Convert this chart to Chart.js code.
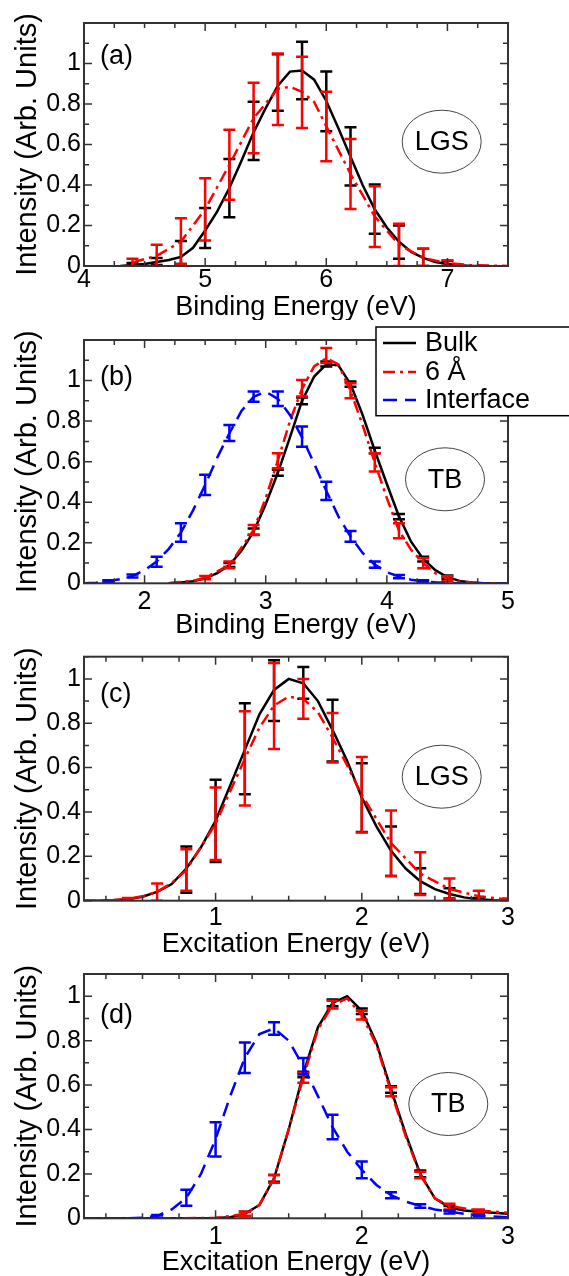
<!DOCTYPE html>
<html>
<head>
<meta charset="utf-8">
<script src="https://cdn.jsdelivr.net/npm/chart.js@4.4.0/dist/chart.umd.min.js"></script>
<style>
  body { margin: 0; background: #fff; }
  .panel { position: absolute; left: 0; width: 569px; }
  canvas { display: block; }
</style>
</head>
<body>
<div class="panel" style="top:0px;height:320px"><canvas id="chart-a" width="569" height="320"></canvas></div>
<div class="panel" style="top:320px;height:320px"><canvas id="chart-b" width="569" height="320"></canvas></div>
<div class="panel" style="top:640px;height:320px"><canvas id="chart-c" width="569" height="320"></canvas></div>
<div class="panel" style="top:960px;height:316px"><canvas id="chart-d" width="569" height="316"></canvas></div>
<script>
// ---- (a) LGS, binding energy ----
const aBulkX = [4.3, 4.4, 4.5, 4.6, 4.7, 4.8, 4.9, 5.0, 5.1, 5.2, 5.3, 5.4, 5.5, 5.6, 5.7, 5.8, 5.9, 6.0, 6.1, 6.2, 6.3, 6.4, 6.5, 6.6, 6.7, 6.8, 6.9, 7.0, 7.1, 7.2, 7.3];
const aBulkY = [0.0, 0.005, 0.01, 0.02, 0.03, 0.045, 0.09, 0.175, 0.27, 0.385, 0.52, 0.66, 0.78, 0.89, 0.96, 0.965, 0.92, 0.815, 0.68, 0.54, 0.40, 0.28, 0.19, 0.12, 0.07, 0.04, 0.02, 0.01, 0.004, 0.0, 0.0];
const aBulkErrX = [4.4, 4.6, 4.8, 5.0, 5.2, 5.4, 5.6, 5.8, 6.0, 6.2, 6.4, 6.6, 6.8, 7.0];
const aBulkErrLo = [0.0, 0.005, 0.01, 0.089, 0.241, 0.524, 0.767, 0.824, 0.665, 0.397, 0.159, 0.036, 0.0, 0.0];
const aBulkErrHi = [0.015, 0.04, 0.123, 0.287, 0.529, 0.811, 1.046, 1.107, 0.961, 0.685, 0.402, 0.2, 0.085, 0.025];
const aSixX = [4.4, 4.6, 4.8, 5.0, 5.2, 5.4, 5.6, 5.7, 5.8, 5.9, 6.0, 6.2, 6.4, 6.6, 6.8, 7.0, 7.2, 7.5];
const aSixY = [0.018, 0.05, 0.12, 0.28, 0.50, 0.73, 0.875, 0.885, 0.86, 0.81, 0.69, 0.455, 0.245, 0.105, 0.04, 0.014, 0.004, 0.0];
const aSixErrX = [4.4, 4.6, 4.8, 5.0, 5.2, 5.4, 5.6, 5.8, 6.0, 6.2, 6.4, 6.6, 6.8, 7.0];
const aSixErrLo = [0.0, 0.0, 0.01, 0.126, 0.327, 0.557, 0.696, 0.681, 0.517, 0.282, 0.094, 0.0, 0.0, 0.0];
const aSixErrHi = [0.036, 0.105, 0.236, 0.433, 0.673, 0.905, 1.05, 1.033, 0.86, 0.627, 0.394, 0.209, 0.085, 0.028];

// ---- (b) TB, binding energy ----
const bBulkX = [2.2, 2.3, 2.4, 2.5, 2.6, 2.7, 2.8, 2.9, 3.0, 3.1, 3.2, 3.3, 3.4, 3.5, 3.6, 3.7, 3.8, 3.9, 4.0, 4.1, 4.2, 4.3, 4.4, 4.5, 4.6, 4.7, 4.8, 5.0];
const bBulkY = [0.0, 0.004, 0.01, 0.025, 0.05, 0.09, 0.16, 0.255, 0.39, 0.545, 0.72, 0.90, 1.02, 1.08, 1.075, 0.983, 0.83, 0.655, 0.49, 0.33, 0.205, 0.12, 0.065, 0.03, 0.012, 0.004, 0.0, 0.0];
const bBulkErrX = [2.7, 2.9, 3.1, 3.3, 3.5, 3.7, 3.9, 4.1, 4.3, 4.5];
const bBulkErrLo = [0.08, 0.24, 0.53, 0.883, 1.069, 0.97, 0.642, 0.316, 0.107, 0.022];
const bBulkErrHi = [0.10, 0.27, 0.56, 0.916, 1.094, 0.995, 0.669, 0.342, 0.131, 0.038];
const bSixX = [2.2, 2.4, 2.5, 2.7, 2.9, 3.0, 3.1, 3.2, 3.3, 3.4, 3.5, 3.6, 3.7, 3.8, 3.9, 4.0, 4.1, 4.2, 4.3, 4.4, 4.5, 4.6, 4.8, 5.0];
const bSixY = [0.0, 0.012, 0.028, 0.09, 0.263, 0.42, 0.605, 0.80, 0.96, 1.07, 1.11, 1.08, 0.95, 0.78, 0.596, 0.42, 0.26, 0.165, 0.10, 0.05, 0.022, 0.008, 0.0, 0.0];
const bSixErrX = [2.5, 2.7, 2.9, 3.1, 3.3, 3.5, 3.7, 3.9, 4.1, 4.3, 4.5];
const bSixErrLo = [0.02, 0.074, 0.238, 0.568, 0.921, 1.086, 0.913, 0.551, 0.222, 0.074, 0.01];
const bSixErrHi = [0.036, 0.107, 0.288, 0.642, 1.003, 1.16, 0.987, 0.642, 0.296, 0.123, 0.035];
const bIntX = [1.5, 1.6, 1.7, 1.8, 1.9, 2.0, 2.1, 2.2, 2.3, 2.4, 2.5, 2.6, 2.7, 2.8, 2.9, 3.0, 3.1, 3.2, 3.3, 3.4, 3.5, 3.6, 3.7, 3.8, 3.9, 4.0, 4.1, 4.2, 4.3, 4.4, 4.6, 5.0];
const bIntY = [0.0, 0.003, 0.01, 0.02, 0.036, 0.065, 0.107, 0.17, 0.25, 0.36, 0.485, 0.62, 0.74, 0.85, 0.92, 0.945, 0.91, 0.83, 0.72, 0.59, 0.456, 0.33, 0.23, 0.15, 0.092, 0.055, 0.033, 0.018, 0.01, 0.005, 0.0, 0.0];
const bIntErrX = [1.7, 1.9, 2.1, 2.3, 2.5, 2.7, 2.9, 3.1, 3.3, 3.5, 3.7, 3.9, 4.1, 4.3];
const bIntErrLo = [0.005, 0.028, 0.082, 0.205, 0.436, 0.702, 0.896, 0.875, 0.674, 0.411, 0.205, 0.077, 0.025, 0.005];
const bIntErrHi = [0.015, 0.044, 0.131, 0.296, 0.535, 0.781, 0.946, 0.946, 0.773, 0.501, 0.258, 0.107, 0.041, 0.015];

// ---- (c) LGS, excitation energy ----
const cBulkX = [0.1, 0.2, 0.3, 0.4, 0.5, 0.6, 0.7, 0.8, 0.9, 1.0, 1.1, 1.2, 1.3, 1.4, 1.5, 1.6, 1.7, 1.8, 1.9, 2.0, 2.1, 2.2, 2.3, 2.4, 2.5, 2.6, 2.7, 2.8, 2.9, 3.0];
const cBulkY = [0.0, 0.0, 0.002, 0.006, 0.018, 0.04, 0.075, 0.145, 0.24, 0.36, 0.52, 0.68, 0.84, 0.95, 1.0, 0.98, 0.90, 0.77, 0.63, 0.465, 0.335, 0.225, 0.145, 0.088, 0.052, 0.03, 0.015, 0.006, 0.002, 0.0];
const cBulkErrX = [0.8, 1.0, 1.2, 1.4, 1.6, 1.8, 2.0, 2.2, 2.4, 2.6, 2.8];
const cBulkErrLo = [0.036, 0.175, 0.48, 0.81, 0.91, 0.628, 0.31, 0.111, 0.03, 0.01, 0.0];
const cBulkErrHi = [0.244, 0.545, 0.89, 1.084, 1.054, 0.906, 0.62, 0.334, 0.146, 0.056, 0.012];
const cSixX = [0.1, 0.3, 0.4, 0.5, 0.6, 0.7, 0.8, 1.0, 1.2, 1.3, 1.4, 1.5, 1.6, 1.7, 1.8, 1.9, 2.0, 2.2, 2.4, 2.6, 2.8, 3.0];
const cSixY = [0.0, 0.003, 0.008, 0.02, 0.04, 0.08, 0.138, 0.347, 0.64, 0.78, 0.88, 0.92, 0.91, 0.85, 0.735, 0.61, 0.477, 0.26, 0.122, 0.053, 0.02, 0.005];
const cSixErrX = [0.4, 0.6, 0.8, 1.0, 1.2, 1.4, 1.6, 1.8, 2.0, 2.2, 2.4, 2.6, 2.8, 3.0];
const cSixErrLo = [0.0, 0.0, 0.045, 0.184, 0.429, 0.684, 0.82, 0.623, 0.307, 0.111, 0.026, 0.006, 0.0, 0.0];
const cSixErrHi = [0.012, 0.078, 0.232, 0.51, 0.854, 1.072, 1.0, 0.846, 0.648, 0.407, 0.218, 0.1, 0.045, 0.01];

// ---- (d) TB, excitation energy ----
const dBulkX = [0.1, 0.5, 0.8, 1.0, 1.1, 1.2, 1.3, 1.4, 1.5, 1.6, 1.7, 1.8, 1.9, 2.0, 2.1, 2.2, 2.3, 2.4, 2.5, 2.6, 2.7, 2.8, 2.9, 3.0];
const dBulkY = [0.0, 0.0, 0.0, 0.001, 0.005, 0.02, 0.06, 0.18, 0.40, 0.65, 0.86, 0.97, 1.0, 0.935, 0.79, 0.58, 0.38, 0.20, 0.09, 0.048, 0.035, 0.03, 0.025, 0.02];
const dBulkErrX = [1.2, 1.4, 1.6, 1.8, 2.0, 2.2, 2.4, 2.6, 2.8];
const dBulkErrLo = [0.01, 0.165, 0.635, 0.955, 0.92, 0.565, 0.185, 0.035, 0.022];
const dBulkErrHi = [0.03, 0.195, 0.66, 0.985, 0.945, 0.595, 0.215, 0.055, 0.035];
const dSixX = [0.1, 1.0, 1.2, 1.3, 1.4, 1.5, 1.6, 1.7, 1.8, 1.9, 2.0, 2.1, 2.2, 2.3, 2.4, 2.5, 2.6, 2.8, 3.0];
const dSixY = [0.0, 0.001, 0.02, 0.06, 0.18, 0.40, 0.635, 0.85, 0.96, 0.99, 0.915, 0.78, 0.57, 0.37, 0.195, 0.09, 0.055, 0.035, 0.025];
const dSixErrX = [1.2, 1.4, 1.6, 1.8, 2.0, 2.2, 2.4, 2.6, 2.8];
const dSixErrLo = [0.01, 0.16, 0.61, 0.945, 0.895, 0.55, 0.18, 0.04, 0.025];
const dSixErrHi = [0.03, 0.195, 0.655, 0.98, 0.935, 0.59, 0.21, 0.065, 0.04];
const dIntX = [0.1, 0.4, 0.5, 0.6, 0.7, 0.8, 0.9, 1.0, 1.1, 1.2, 1.3, 1.4, 1.5, 1.6, 1.7, 1.8, 1.9, 2.0, 2.1, 2.2, 2.3, 2.4, 2.5, 2.6, 2.7, 2.8, 2.9, 3.0];
const dIntY = [0.0, 0.0, 0.003, 0.01, 0.04, 0.092, 0.2, 0.356, 0.55, 0.723, 0.83, 0.855, 0.80, 0.685, 0.55, 0.41, 0.30, 0.218, 0.15, 0.104, 0.075, 0.056, 0.04, 0.03, 0.02, 0.012, 0.008, 0.005];
const dIntErrX = [0.6, 0.8, 1.0, 1.2, 1.4, 1.6, 1.8, 2.0, 2.2, 2.4, 2.6, 2.8];
const dIntErrLo = [0.003, 0.056, 0.278, 0.654, 0.827, 0.647, 0.356, 0.18, 0.09, 0.048, 0.022, 0.008];
const dIntErrHi = [0.015, 0.128, 0.433, 0.792, 0.883, 0.722, 0.466, 0.256, 0.117, 0.063, 0.035, 0.016];

const legendLabels = ['Bulk', '6 Å', 'Interface'];

Chart.defaults.font.family = '"Liberation Sans", Arial, Helvetica, sans-serif';
Chart.defaults.color = '#000';

function toPoints(xs, ys) {
    return xs.map((x, i) => ({ x: x, y: ys[i] }));
}

function bulkSet(xs, ys, ex, lo, hi) {
    return {
        label: legendLabels[0], data: toPoints(xs, ys), borderColor: '#000000',
        borderWidth: 2.5, pointRadius: 0, order: 3, err: { x: ex, lo: lo, hi: hi }
    };
}
function sixSet(xs, ys, ex, lo, hi) {
    return {
        label: legendLabels[1], data: toPoints(xs, ys), borderColor: '#ff0000',
        borderWidth: 2.5, borderDash: [12, 5, 3, 5], pointRadius: 0, order: 2, err: { x: ex, lo: lo, hi: hi }
    };
}
function interfaceSet(xs, ys, ex, lo, hi) {
    return {
        label: legendLabels[2], data: toPoints(xs, ys), borderColor: '#0000ff',
        borderWidth: 2.5, borderDash: [14, 8], pointRadius: 0, order: 1, err: { x: ex, lo: lo, hi: hi }
    };
}

// error bars, frame with inward ticks, panel tag, ellipse label, legend
const decorPlugin = {
    id: 'decor',
    afterDatasetDraw(chart, args) {
        const ds = chart.data.datasets[args.index];
        if (!ds.err) return;
        const xs = chart.scales.x, ys = chart.scales.y, ctx = chart.ctx, area = chart.chartArea;
        ctx.save();
        ctx.beginPath();
        ctx.rect(area.left, area.top, area.right - area.left, area.bottom - area.top);
        ctx.clip();
        ctx.strokeStyle = ds.borderColor;
        ctx.lineWidth = 2.5;
        ctx.setLineDash([]);
        ds.err.x.forEach((v, i) => {
            const px = xs.getPixelForValue(v);
            const p1 = ys.getPixelForValue(ds.err.lo[i]);
            const p2 = ys.getPixelForValue(ds.err.hi[i]);
            ctx.beginPath();
            ctx.moveTo(px, p1); ctx.lineTo(px, p2);
            ctx.moveTo(px - 6, p1); ctx.lineTo(px + 6, p1);
            ctx.moveTo(px - 6, p2); ctx.lineTo(px + 6, p2);
            ctx.stroke();
        });
        ctx.restore();
    },
    afterDraw(chart) {
        const opts = chart.options.plugins.decor;
        const ctx = chart.ctx, a = chart.chartArea;
        const xs = chart.scales.x, ys = chart.scales.y;
        ctx.save();
        // ticks
        ctx.strokeStyle = '#333';
        ctx.lineWidth = 1.5;
        ctx.beginPath();
        const tickRun = (scale, step, len, horiz) => {
            const start = Math.ceil(scale.min / step - 1e-6);
            for (let k = start; k * step <= scale.max + 1e-6; k++) {
                const p = scale.getPixelForValue(k * step);
                if (horiz) {
                    ctx.moveTo(p, a.bottom); ctx.lineTo(p, a.bottom - len);
                    ctx.moveTo(p, a.top); ctx.lineTo(p, a.top + len);
                } else {
                    ctx.moveTo(a.left, p); ctx.lineTo(a.left + len, p);
                    ctx.moveTo(a.right, p); ctx.lineTo(a.right - len, p);
                }
            }
        };
        tickRun(xs, opts.xMajor, 8, true);
        tickRun(xs, opts.xMajor / 4, 5, true);
        tickRun(ys, 0.2, 8, false);
        tickRun(ys, 0.1, 5, false);
        ctx.stroke();
        ctx.lineWidth = 2;
        ctx.strokeRect(a.left, a.top, a.right - a.left, a.bottom - a.top);

        // panel tag
        ctx.fillStyle = '#000';
        ctx.font = '27px "Liberation Sans", Arial, sans-serif';
        ctx.textBaseline = 'middle';
        ctx.textAlign = 'left';
        ctx.fillText(opts.tag, opts.tagPos[0], opts.tagPos[1]);

        // method ellipse
        ctx.strokeStyle = '#444';
        ctx.lineWidth = 1;
        ctx.beginPath();
        ctx.ellipse(opts.ellipse[0], opts.ellipse[1], 39.5, 31.5, 0, 0, Math.PI * 2);
        ctx.stroke();
        ctx.textAlign = 'center';
        ctx.fillText(opts.method, opts.ellipse[0], opts.ellipse[1] + 1);

        // legend box
        if (opts.legend) {
            const L = opts.legend;
            ctx.fillStyle = '#fff';
            ctx.fillRect(L.x, L.y, L.w, L.h);
            ctx.strokeStyle = '#000';
            ctx.lineWidth = 1.5;
            ctx.strokeRect(L.x, L.y, L.w, L.h);
            ctx.textAlign = 'left';
            chart.data.datasets.forEach((ds, i) => {
                const ry = L.rows[i];
                ctx.strokeStyle = ds.borderColor;
                ctx.lineWidth = 2.5;
                ctx.setLineDash(ds.borderDash || []);
                ctx.beginPath();
                ctx.moveTo(L.x + 7, ry); ctx.lineTo(L.x + 40, ry);
                ctx.stroke();
                ctx.setLineDash([]);
                ctx.fillStyle = '#000';
                ctx.fillText(ds.label, L.x + 49, ry + 1);
            });
        }
        ctx.restore();
    }
};

function makePanel(id, p) {
    const H = p.height;
    return new Chart(document.getElementById(id), {
        type: 'line',
        data: { datasets: p.datasets },
        plugins: [decorPlugin],
        options: {
            responsive: false,
            animation: false,
            layout: { padding: { left: 0, right: 569 - 508, top: p.plotTop, bottom: 0 } },
            plugins: {
                legend: { display: false },
                tooltip: { enabled: false },
                decor: { xMajor: 1, tag: p.tag, tagPos: p.tagPos, method: p.method, ellipse: p.ellipse, legend: p.legend }
            },
            scales: {
                x: {
                    type: 'linear',
                    min: p.xMin, max: p.xMax,
                    grid: { display: false, drawTicks: false },
                    border: { display: false },
                    ticks: {
                        stepSize: 1, includeBounds: false, maxRotation: 0, padding: p.xTickPad,
                        font: { size: 25 },
                        callback: v => String(Math.round(v * 10) / 10)
                    },
                    title: {
                        display: true, text: p.xTitle,
                        font: { size: 27, lineHeight: 1 },
                        padding: { top: 0, bottom: p.xTitlePad }
                    },
                    afterFit: s => {
                        s.height = H - p.plotBottom;
                        s.paddingLeft = 0; s.paddingRight = 0; s.paddingTop = 0; s.paddingBottom = 0;
                    }
                },
                y: {
                    type: 'linear',
                    min: 0, max: p.yMax,
                    grid: { display: false, drawTicks: false },
                    border: { display: false },
                    ticks: {
                        stepSize: 0.2, includeBounds: false, padding: 3,
                        font: { size: 25 },
                        callback: v => (v > 1.05 ? '' : String(Math.round(v * 10) / 10))
                    },
                    title: {
                        display: true, text: 'Intensity (Arb. Units)',
                        font: { size: 29, lineHeight: 1 },
                        padding: { top: 13.5, bottom: 0 }
                    },
                    afterFit: s => {
                        s.width = 84;
                        s.paddingLeft = 0; s.paddingRight = 0; s.paddingTop = 0; s.paddingBottom = 0;
                    }
                }
            }
        }
    });
}

makePanel('chart-a', {
    height: 320, plotTop: 23, plotBottom: 266, xMin: 4, xMax: 7.5, yMax: 1.2,
    xTickPad: -1, xTitlePad: -1.5, xTitle: 'Binding Energy (eV)',
    tag: '(a)', tagPos: [100, 57], method: 'LGS', ellipse: [441.7, 141.7],
    datasets: [
        bulkSet(aBulkX, aBulkY, aBulkErrX, aBulkErrLo, aBulkErrHi),
        sixSet(aSixX, aSixY, aSixErrX, aSixErrLo, aSixErrHi)
    ]
});

makePanel('chart-b', {
    height: 320, plotTop: 20, plotBottom: 263.3, xMin: 1.5, xMax: 5, yMax: 1.2,
    xTickPad: 4, xTitlePad: 1, xTitle: 'Binding Energy (eV)',
    tag: '(b)', tagPos: [100, 58], method: 'TB', ellipse: [445, 159.3],
    legend: { x: 376, y: 7, w: 200, h: 88.7, rows: [23, 52, 80] },
    datasets: [
        bulkSet(bBulkX, bBulkY, bBulkErrX, bBulkErrLo, bBulkErrHi),
        sixSet(bSixX, bSixY, bSixErrX, bSixErrLo, bSixErrHi),
        interfaceSet(bIntX, bIntY, bIntErrX, bIntErrLo, bIntErrHi)
    ]
});

makePanel('chart-c', {
    height: 320, plotTop: 16.7, plotBottom: 260.7, xMin: 0.1, xMax: 3, yMax: 1.1,
    xTickPad: 2, xTitlePad: 2, xTitle: 'Excitation Energy (eV)',
    tag: '(c)', tagPos: [100, 55], method: 'LGS', ellipse: [441.7, 136.7],
    datasets: [
        bulkSet(cBulkX, cBulkY, cBulkErrX, cBulkErrLo, cBulkErrHi),
        sixSet(cSixX, cSixY, cSixErrX, cSixErrLo, cSixErrHi)
    ]
});

makePanel('chart-d', {
    height: 316, plotTop: 14, plotBottom: 258.3, xMin: 0.1, xMax: 3, yMax: 1.1,
    xTickPad: 4, xTitlePad: 0.3, xTitle: 'Excitation Energy (eV)',
    tag: '(d)', tagPos: [100, 56], method: 'TB', ellipse: [448.3, 144],
    datasets: [
        bulkSet(dBulkX, dBulkY, dBulkErrX, dBulkErrLo, dBulkErrHi),
        sixSet(dSixX, dSixY, dSixErrX, dSixErrLo, dSixErrHi),
        interfaceSet(dIntX, dIntY, dIntErrX, dIntErrLo, dIntErrHi)
    ]
});
</script>
</body>
</html>
